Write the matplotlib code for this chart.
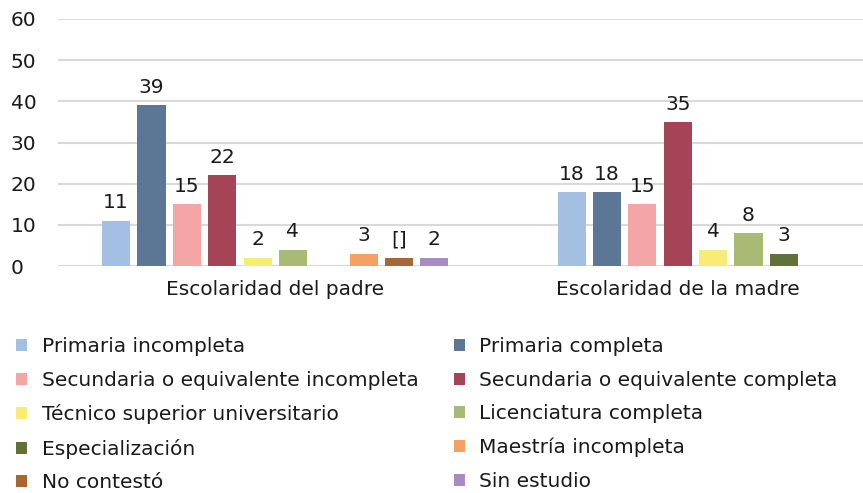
import matplotlib
matplotlib.use("Agg")
import matplotlib.pyplot as plt
from matplotlib.patches import Patch
import numpy as np

plt.rcParams['font.family'] = ['DejaVu Sans']

groups = ["Escolaridad del padre", "Escolaridad de la madre"]
series = ["Primaria incompleta", "Primaria completa",
          "Secundaria o equivalente incompleta", "Secundaria o equivalente completa",
          "Técnico superior universitario", "Licenciatura completa",
          "Especialización", "Maestría incompleta",
          "No contestó", "Sin estudio"]
colors = ["#a3bfe1", "#5c7796", "#f4a6a6", "#a44456", "#f7ec74",
          "#a8ba74", "#617137", "#f4a163", "#aa6535", "#a68bc4"]

padre = [11, 39, 15, 22, 2, 4, None, 3, 2, 2]
padre_labels = ["11", "39", "15", "22", "2", "4", "", "3", "[]", "2"]
madre = [18, 18, 15, 35, 4, 8, 3]
madre_labels = ["18", "18", "15", "35", "4", "8", "3"]

yticks = [0, 10, 20, 30, 40, 50, 60]

FS = 14.5
TC = "#1a1a1a"

fig = plt.figure(figsize=(8.63, 4.93), dpi=100)
ax = fig.add_axes([0.067, 0.4604, 0.933, 0.5011])

spacing = 0.0878
width = 0.0697
centers = [0.5, 1.5]

for gi, (vals, labs) in enumerate([(padre, padre_labels), (madre, madre_labels)]):
    n = len(vals)
    for i, (v, lab) in enumerate(zip(vals, labs)):
        x = centers[gi] + (i - (n - 1) / 2) * spacing
        if v is None:
            continue
        ax.bar(x, v, width=width, color=colors[i], zorder=3)
        ax.annotate(lab, (x, v), xytext=(0, 6), textcoords="offset points",
                    ha="center", va="bottom", fontsize=FS, color=TC)

ax.set_xlim(-0.04, 1.96)
ax.set_ylim(0, 60)
ax.set_yticks(yticks)
ax.set_yticklabels([str(t) for t in yticks], fontsize=FS, color=TC)
ax.set_xticks(centers)
ax.set_xticklabels(groups, fontsize=FS, color=TC)
ax.tick_params(axis="both", length=0)
ax.tick_params(axis="y", pad=34)
ax.tick_params(axis="x", pad=10)
for lab in ax.get_yticklabels():
    lab.set_horizontalalignment("left")
ax.grid(axis="y", color="#d9d9d9", linewidth=1.5, zorder=0)
ax.set_axisbelow(True)
for s in ax.spines.values():
    s.set_visible(False)

handles = [Patch(facecolor=c, edgecolor="none") for c in colors]
order = [0, 2, 4, 6, 8, 1, 3, 5, 7, 9]
leg = fig.legend([handles[i] for i in order], [series[i] for i in order],
                 ncol=2, loc="upper left", bbox_to_anchor=(0.005, 0.34),
                 frameon=False, fontsize=FS, handlelength=0.55, handleheight=0.55,
                 handletextpad=0.7, columnspacing=1.75, labelspacing=0.72,
                 borderaxespad=0.2)
for t in leg.get_texts():
    t.set_color(TC)

fig.savefig("out.png", dpi=100)
